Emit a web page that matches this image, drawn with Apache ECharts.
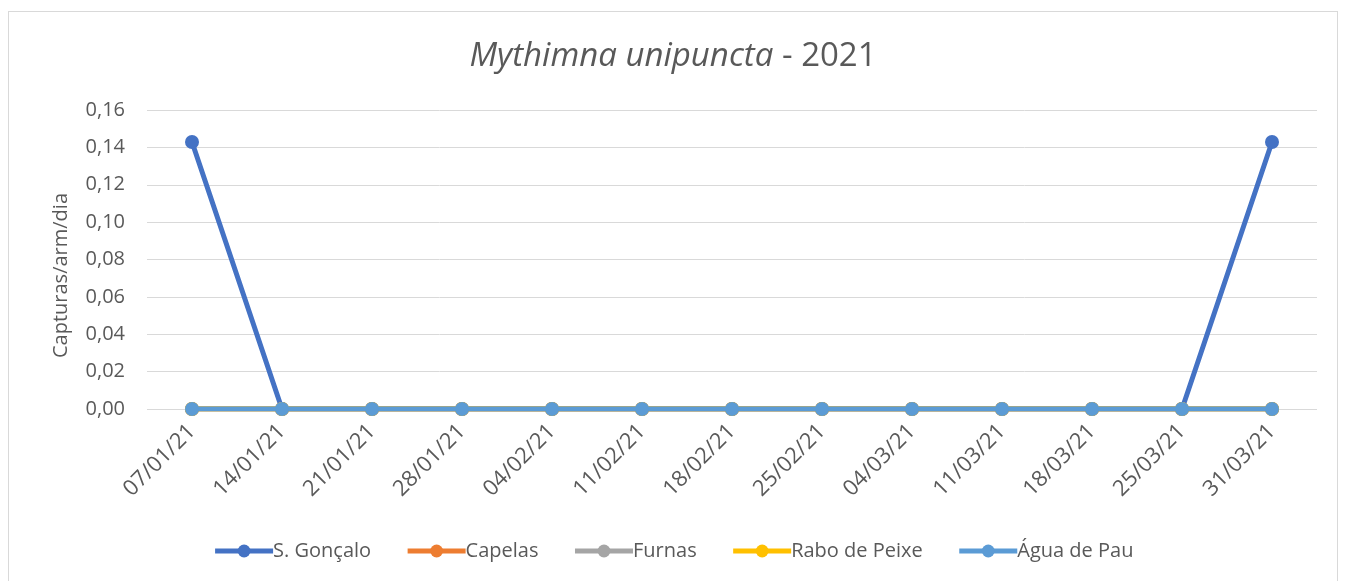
<!DOCTYPE html>
<html>
<head>
<meta charset="utf-8">
<script src="https://cdn.jsdelivr.net/npm/echarts@6/dist/echarts.min.js"></script>
<style>
  html, body { margin: 0; padding: 0; background: #fff; }
  #frame { position: absolute; left: 8px; top: 11px; width: 1330px; height: 575px; border: 1px solid #d9d9d9; box-sizing: border-box; }
  #chart { width: 1346px; height: 581px; }
</style>
</head>
<body>
<div id="frame"></div>
<div id="chart"></div>
<script>
// dates of trap readings
const dates = ["07/01/21", "14/01/21", "21/01/21", "28/01/21", "04/02/21", "11/02/21", "18/02/21",
  "25/02/21", "04/03/21", "11/03/21", "18/03/21", "25/03/21", "31/03/21"];
const sGoncalo = [0.1429, 0, 0, 0, 0, 0, 0, 0, 0, 0, 0, 0, 0.1429];
const capelas = [0, 0, 0, 0, 0, 0, 0, 0, 0, 0, 0, 0, 0];
const furnas = [0, 0, 0, 0, 0, 0, 0, 0, 0, 0, 0, 0, 0];
const raboDePeixe = [0, 0, 0, 0, 0, 0, 0, 0, 0, 0, 0, 0, 0];
const aguaDePau = [0, 0, 0, 0, 0, 0, 0, 0, 0, 0, 0, 0, 0];

const names = ["S. Gonçalo", "Capelas", "Furnas", "Rabo de Peixe", "Água de Pau"];
const colors = ["#4472c4", "#ed7d31", "#a5a5a5", "#ffc000", "#5b9bd5"];
const values = [sGoncalo, capelas, furnas, raboDePeixe, aguaDePau];

const font = "'Open Sans', 'Liberation Sans', sans-serif";
const grey = "#595959";
const chart = echarts.init(document.getElementById("chart"));

chart.setOption({
  animation: false,
  color: colors,
  title: {
    text: "{i|Mythimna unipuncta}{n| - 2021}",
    left: "center",
    top: 35,
    textStyle: {
      rich: {
        i: { fontStyle: "italic", fontWeight: "normal", fontSize: 33, color: grey, fontFamily: font },
        n: { fontWeight: "normal", fontSize: 33, color: grey, fontFamily: font }
      }
    }
  },
  grid: { left: 147, right: 29, top: 110, bottom: 172, containLabel: false },
  legend: {
    top: 536,
    left: "center",
    itemWidth: 58,
    itemHeight: 16,
    itemGap: 34,
    lineStyle: { width: 5 },
    textStyle: { color: grey, fontSize: 20, fontFamily: font, padding: [0, 0, 0, -5] },
    data: names
  },
  xAxis: {
    type: "category",
    data: dates,
    boundaryGap: true,
    axisLine: { show: false },
    axisTick: { show: false },
    axisLabel: { rotate: 45, color: grey, fontSize: 22, fontFamily: font, margin: 19, interval: 0 }
  },
  yAxis: {
    type: "value",
    min: 0,
    max: 0.16,
    interval: 0.02,
    name: "Capturas/arm/dia",
    nameLocation: "middle",
    nameGap: 76,
    nameTextStyle: { color: grey, fontSize: 20, fontFamily: font, padding: [0, 32, 0, 0] },
    axisLine: { show: false },
    axisTick: { show: false },
    splitLine: { lineStyle: { color: "#d9d9d9", width: 1 } },
    axisLabel: {
      color: grey, fontSize: 20, fontFamily: font, margin: 22,
      formatter: v => v.toFixed(2).replace(".", ",")
    }
  },
  series: names.map((n, i) => ({
    name: n,
    type: "line",
    data: values[i],
    symbol: "circle",
    symbolSize: 14,
    lineStyle: { width: 5, color: colors[i] },
    itemStyle: { color: colors[i] },
    z: 2 + i
  }))
});
</script>
</body>
</html>
